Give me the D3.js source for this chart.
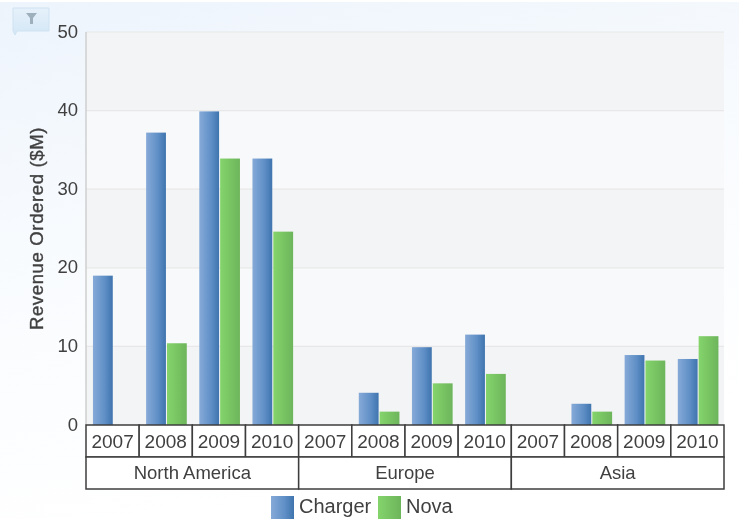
<!DOCTYPE html>
<html>
<head>
<meta charset="utf-8">
<script src="https://cdn.jsdelivr.net/npm/d3@7"></script>
<style>
  html, body { margin: 0; padding: 0; background: #fff; }
  text { font-family: "Liberation Sans", Arial, sans-serif; fill: #404040; }
</style>
</head>
<body>
<svg id="chart" width="739" height="519"></svg>
<script>
const regions = ['North America', 'Europe', 'Asia'];
const years = ['2007', '2008', '2009', '2010'];
const seriesNames = ['Charger', 'Nova'];
const charger = [19, 37.2, 39.9, 33.9, 0, 4.1, 9.9, 11.5, 0, 2.7, 8.9, 8.4];
const nova = [0, 10.4, 33.9, 24.6, 0, 1.7, 5.3, 6.5, 0, 1.7, 8.2, 11.3];
const yTicks = [0, 10, 20, 30, 40, 50];

const margin = { top: 32, right: 15, bottom: 94, left: 86 };
const width = 739 - margin.left - margin.right;
const height = 519 - margin.top - margin.bottom;
const rowHeight = 32;

const svg = d3.select('#chart');
const defs = svg.append('defs');

function gradient(id, x2, y2, stops) {
  const g = defs.append('linearGradient').attr('id', id)
    .attr('x1', 0).attr('y1', 0).attr('x2', x2).attr('y2', y2);
  stops.forEach(s => g.append('stop').attr('offset', s[0]).attr('stop-color', s[1]));
}
gradient('page', 0.3, 1, [[0, '#edf4fc'], [0.45, '#f8fbfe'], [1, '#ffffff']]);
gradient('charger', 1, 0, [[0, '#86aad8'], [0.6, '#5f8fc6'], [1, '#3f74ae']]);
gradient('nova', 1, 0, [[0, '#84d46c'], [1, '#6db55b']]);
gradient('filter', 0, 1, [[0, '#e6f1fa'], [1, '#d3e7f6']]);

// the reference is a slightly soft screenshot
defs.append('filter').attr('id', 'soft')
  .append('feGaussianBlur').attr('stdDeviation', 0.45);

// page background
svg.append('rect').attr('width', 739).attr('height', 519).attr('fill', 'url(#page)');
svg.append('rect').attr('width', 739).attr('height', 2).attr('fill', '#ffffff');

const root = svg.append('g').attr('filter', 'url(#soft)');

// filter tab in the corner
const tab = root.append('g');
tab.append('path')
  .attr('d', 'M13 8H49V31H17L15 35L13 31Z')
  .attr('fill', 'url(#filter)').attr('stroke', '#cfe2f1');
tab.append('path')
  .attr('d', 'M26 13H37L33 18V24H30V18Z')
  .attr('fill', '#9fb0bd');

const chart = root.append('g').attr('transform', `translate(${margin.left},${margin.top})`);

const y = d3.scaleLinear().domain([0, 50]).range([height, 0]);
const xRegion = d3.scaleBand().domain(regions).range([0, width]);
const xYear = d3.scaleBand().domain(d3.range(charger.length)).range([0, width]);
const xSeries = d3.scaleBand().domain(seriesNames).range([0.7, xYear.bandwidth() + 0.7])
  .paddingInner(0.05).paddingOuter(0.3);

// alternating bands and gridlines
chart.selectAll('.band')
  .data(d3.pairs(yTicks))
  .enter().append('rect')
  .attr('class', 'band')
  .attr('x', 0)
  .attr('width', width)
  .attr('y', d => y(d[1]))
  .attr('height', d => y(d[0]) - y(d[1]))
  .attr('fill', (d, i) => i % 2 === 0 ? '#f3f4f5' : '#f8f9fb');

chart.selectAll('.grid')
  .data(yTicks.slice(1))
  .enter().append('line')
  .attr('class', 'grid')
  .attr('x1', 0).attr('x2', width)
  .attr('y1', d => y(d)).attr('y2', d => y(d))
  .attr('stroke', '#e8e8e8')
  .attr('stroke-width', 1.2);

chart.append('line')
  .attr('x1', 0).attr('x2', 0)
  .attr('y1', 0).attr('y2', height)
  .attr('stroke', '#cfcfcf').attr('stroke-width', 1.5);

// y axis, domain and tick marks hidden
const yAxis = chart.append('g')
  .call(d3.axisLeft(y).tickValues(yTicks).tickSize(0).tickPadding(8));
yAxis.select('.domain').remove();
yAxis.selectAll('text').style('font-size', '18.5px').attr('dy', '0.28em');

chart.append('text')
  .attr('transform', `translate(-43,${height / 2 - 0}) rotate(-90)`)
  .attr('text-anchor', 'middle')
  .style('font-size', '18.5px')
  .style('letter-spacing', '0.65px')
  .style('stroke', '#404040')
  .style('stroke-width', '0.35px')
  .text('Revenue Ordered ($M)');

// bars
[[charger, 'Charger', 'url(#charger)'], [nova, 'Nova', 'url(#nova)']].forEach(s => {
  chart.selectAll('.bar-' + s[1])
    .data(s[0])
    .enter().append('rect')
    .attr('class', 'bar-' + s[1])
    .attr('x', (d, i) => xYear(i) + xSeries(s[1]))
    .attr('width', xSeries.bandwidth())
    .attr('y', d => y(d))
    .attr('height', d => height - y(d))
    .attr('fill', s[2]);
});

// two level category boxes
const boxStroke = '#3e3e3e';
chart.selectAll('.yearBox')
  .data(d3.range(charger.length))
  .enter().append('rect')
  .attr('class', 'yearBox')
  .attr('x', d => xYear(d))
  .attr('y', height)
  .attr('width', xYear.bandwidth())
  .attr('height', rowHeight)
  .attr('fill', '#ffffff')
  .attr('stroke', boxStroke)
  .attr('stroke-width', 1.5);

chart.selectAll('.yearLabel')
  .data(d3.range(charger.length))
  .enter().append('text')
  .attr('class', 'yearLabel')
  .attr('x', d => xYear(d) + xYear.bandwidth() / 2)
  .attr('y', height + rowHeight / 2 + 7)
  .attr('text-anchor', 'middle')
  .style('font-size', '19px')
  .text(d => years[d % years.length]);

chart.selectAll('.regionBox')
  .data(regions)
  .enter().append('rect')
  .attr('class', 'regionBox')
  .attr('x', d => xRegion(d))
  .attr('y', height + rowHeight)
  .attr('width', xRegion.bandwidth())
  .attr('height', rowHeight)
  .attr('fill', '#ffffff')
  .attr('stroke', boxStroke)
  .attr('stroke-width', 1.5);

chart.selectAll('.regionLabel')
  .data(regions)
  .enter().append('text')
  .attr('class', 'regionLabel')
  .attr('x', d => xRegion(d) + xRegion.bandwidth() / 2)
  .attr('y', height + rowHeight * 1.5 + 6)
  .attr('text-anchor', 'middle')
  .style('font-size', '18.5px')
  .text(d => d);

// legend
const legendX = d3.scalePoint().domain(seriesNames).range([271, 378]);
const legend = root.selectAll('.legend')
  .data(seriesNames)
  .enter().append('g')
  .attr('class', 'legend')
  .attr('transform', d => `translate(${legendX(d)},496)`);
legend.append('rect')
  .attr('width', 23).attr('height', 23)
  .attr('fill', d => d === 'Charger' ? 'url(#charger)' : 'url(#nova)');
legend.append('text')
  .attr('x', 28).attr('y', 17)
  .style('font-size', '20px')
  .text(d => d);
</script>
</body>
</html>
